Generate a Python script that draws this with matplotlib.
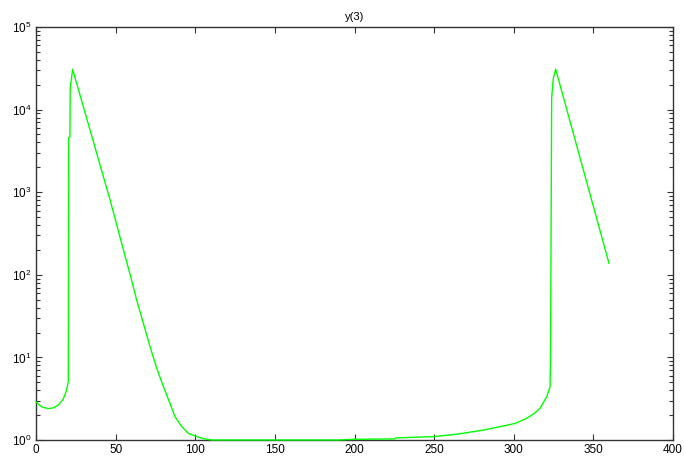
import matplotlib
matplotlib.use("Agg")
import matplotlib.pyplot as plt
from matplotlib.ticker import LogLocator, NullFormatter

plt.rcParams['font.family'] = ['Liberation Sans', 'DejaVu Sans']
plt.rcParams['mathtext.fontset'] = 'custom'
plt.rcParams['mathtext.rm'] = 'Liberation Sans'

title = "y(3)"

t = [0, 2, 4, 7.7, 11, 14, 17, 19, 20.3, 20.5, 21.3, 21.5, 23,
     30, 40, 46.5, 53, 60, 63.2, 67.4, 71.6, 75.8, 80, 84.1, 87.3, 91.5, 95.7,
     100.9, 105, 110.3, 115,
     150, 190, 200, 225, 226, 250, 265, 281, 295, 301, 308, 313, 316.5,
     320.7, 322.8, 323.1, 323.8, 324.8, 326.3, 359.8]
y3 = [2.9, 2.65, 2.5, 2.4, 2.45, 2.65, 3.1, 3.9, 5.1, 4570, 4700, 18400, 30700,
      10400, 2210, 805, 275, 86.5, 49.5, 25.9, 13.5, 7.4, 4.42, 2.78, 1.91, 1.45, 1.2,
      1.1, 1.04, 1.0, 1.0,
      1.0, 1.0, 1.02, 1.03, 1.06, 1.1, 1.18, 1.32, 1.5, 1.59, 1.83, 2.1, 2.42,
      3.34, 4.4, 9.3, 13700, 23500, 31000, 138]

xticks = [0, 50, 100, 150, 200, 250, 300, 350, 400]

fig = plt.figure(figsize=(6.84, 4.62), dpi=100)
ax = fig.add_axes([36/684, 22/462, (673-36)/684, (440-27)/462])
ax.plot(t, y3, color='#00ff00', lw=1.0, zorder=5, clip_on=False)
ax.set_yscale('log')
ax.set_xlim(0, 400)
ax.set_ylim(1, 1e5)
ax.set_xticks(xticks)
ax.yaxis.set_major_locator(LogLocator(base=10, numticks=10))
ax.yaxis.set_minor_locator(LogLocator(base=10, subs=range(2, 10), numticks=20))
ax.yaxis.set_minor_formatter(NullFormatter())
ax.tick_params(which='both', direction='in', top=True, right=True, labelsize=8.5,
               color='#333333', width=0.8, pad=3)
ax.tick_params(which='major', length=4)
ax.tick_params(which='minor', length=3)
for s in ax.spines.values():
    s.set_color('#333333')
    s.set_linewidth(1.0)
ax.set_title(title, fontsize=8, pad=5)
fig.savefig("out.png", dpi=100)
